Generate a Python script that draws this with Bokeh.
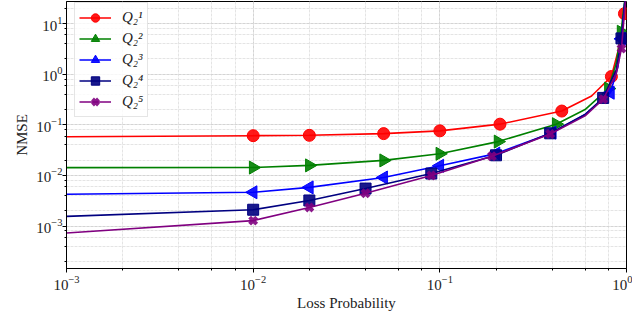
import math
from bokeh.plotting import figure
from bokeh.models import Legend, LegendItem, LogTicker
from bokeh.embed import file_html
from bokeh.resources import INLINE

# ---- data ----
loss_q1 = [0.001, 0.01, 0.02, 0.05, 0.1, 0.21, 0.45, 0.65, 0.83, 0.9, 0.975, 0.995]
nmse_q1 = [0.058, 0.061, 0.062, 0.067, 0.076, 0.103, 0.187, 0.37, 0.9, 2.8, 15.7, 60]

loss_q2 = [0.001, 0.01, 0.02, 0.05, 0.1, 0.205, 0.42, 0.6, 0.8, 0.88, 0.935, 0.995]
nmse_q2 = [0.01425, 0.0143, 0.0158, 0.0198, 0.0268, 0.0466, 0.103, 0.2, 0.52, 1.6, 6.9, 50]

loss_q3 = [0.001, 0.01, 0.02, 0.05, 0.1, 0.2, 0.4, 0.6, 0.82, 0.9, 0.94, 0.995]
nmse_q3 = [0.00424, 0.00464, 0.0058, 0.0091, 0.0155, 0.027, 0.07, 0.16, 0.43, 1.4, 5.0, 50]

loss_q4 = [0.001, 0.01, 0.02, 0.04, 0.09, 0.2, 0.39, 0.6, 0.75, 0.88, 0.94, 0.995]
nmse_q4 = [0.00155, 0.0021, 0.0032, 0.0055, 0.0109, 0.025, 0.068, 0.16, 0.34, 1.2, 5.1, 50]

loss_q5 = [0.001, 0.01, 0.02, 0.04, 0.09, 0.19, 0.39, 0.6, 0.75, 0.88, 0.94, 0.995]
nmse_q5 = [0.00073, 0.00128, 0.00233, 0.00444, 0.0100, 0.024, 0.066, 0.15, 0.32, 1.0, 3.2, 40]

marker_idx = [1, 2, 3, 4, 5, 6, 8, 10]
series_labels = ["Q\u2082\u00b9", "Q\u2082\u00b2", "Q\u2082\u00b3", "Q\u2082\u2074", "Q\u2082\u2075"]

x_label = "Loss Probability"
y_label = "NMSE"

FONT = "Liberation Serif"
TXT = "#222222"

p = figure(width=632, height=313, x_axis_type="log", y_axis_type="log",
           x_range=(1e-3, 1.0), y_range=(1.45e-4, 27.3),
           output_backend="svg", toolbar_location=None,
           min_border_left=66, min_border_right=6, min_border_top=1,
           min_border_bottom=43)

p.background_fill_color = "white"
p.border_fill_color = "white"
p.outline_line_color = "black"
p.outline_line_alpha = 1.0
p.outline_line_width = 1

for g in (p.xgrid, p.ygrid):
    g.grid_line_color = "#d4d4d4"
    g.grid_line_dash = "3 1"
    g.grid_line_width = 1
    g.minor_grid_line_color = "#e4e4e4"
    g.minor_grid_line_dash = "3 1"
    g.minor_grid_line_width = 1

for ax in (p.xaxis, p.yaxis):
    ax.axis_line_color = "black"
    ax.major_tick_line_color = "black"
    ax.minor_tick_line_color = "black"
    ax.major_tick_out = 4
    ax.major_tick_in = 0
    ax.minor_tick_out = 2
    ax.minor_tick_in = 0
    ax.major_label_text_font = FONT
    ax.major_label_text_font_size = "15px"
    ax.major_label_text_color = TXT
    ax.axis_label_text_font = FONT
    ax.axis_label_text_font_size = "15px"
    ax.axis_label_text_font_style = "normal"
    ax.axis_label_text_color = TXT

p.xaxis.ticker = LogTicker(desired_num_ticks=4)
p.yaxis.ticker = LogTicker(desired_num_ticks=5)
p.xaxis.axis_label = x_label
p.yaxis.axis_label = y_label
p.xaxis.major_label_standoff = 3
p.yaxis.major_label_standoff = 0
p.xaxis.axis_label_standoff = 2
p.yaxis.axis_label_standoff = 3

colors = ["#ff0000", "#008000", "#0000ff", "#000080", "#800080"]
markers = ["circle", "triangle", "triangle", "square", "x"]
angles = [0.0, -math.pi / 2, math.pi / 2, 0.0, 0.0]
sizes = [12, 13, 13, 11, 10]

xs = [loss_q1, loss_q2, loss_q3, loss_q4, loss_q5]
ys = [nmse_q1, nmse_q2, nmse_q3, nmse_q4, nmse_q5]

items = []
for i in range(5):
    ln = p.line(xs[i], ys[i], line_color=colors[i], line_width=1.6)
    mx = [xs[i][k] for k in marker_idx]
    my = [ys[i][k] for k in marker_idx]
    if markers[i] == "x":
        sc = p.scatter(mx, my, marker="x", size=sizes[i], line_color=colors[i],
                       line_width=4, line_alpha=0.9)
    else:
        sc = p.scatter(mx, my, marker=markers[i], size=sizes[i], angle=angles[i],
                       fill_color=colors[i], line_color=colors[i], fill_alpha=0.9,
                       line_width=1)
    items.append(LegendItem(label=series_labels[i], renderers=[ln, sc]))

legend = Legend(items=items, location=(8, 151))
legend.margin = 0
legend.padding = 4
legend.spacing = 0
legend.glyph_width = 32
legend.glyph_height = 21
legend.label_height = 21
legend.label_standoff = 11
legend.label_text_font = FONT
legend.label_text_font_style = "italic"
legend.label_text_font_size = "15px"
legend.label_text_color = TXT
legend.border_line_color = "#cccccc"
legend.border_line_width = 1
legend.background_fill_alpha = 0.8
p.add_layout(legend)

open("out.html", "w").write(file_html(p, INLINE))
